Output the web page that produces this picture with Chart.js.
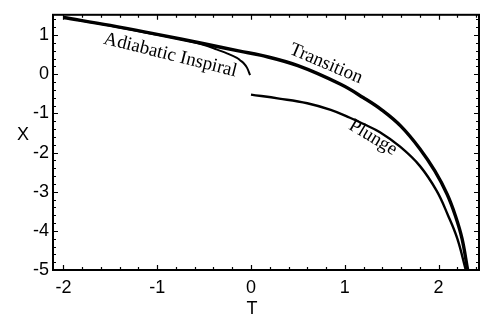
<!DOCTYPE html>
<html>
<head>
<meta charset="utf-8">
<script src="https://cdn.jsdelivr.net/npm/chart.js@4.4.1/dist/chart.umd.min.js"></script>
<style>
  html, body { margin: 0; padding: 0; background: #fff; }
</style>
</head>
<body>
<canvas id="orbitChart" width="481" height="324"></canvas>
<script>
// Curves (T along the bottom, X up the side)
var inspiralT = [-2, -1.5, -1, -0.7, -0.5, -0.36, -0.25, -0.15, -0.117, -0.08, -0.043, -0.01];
var inspiralX = [1.45, 1.24, 1.01, 0.87, 0.75, 0.63, 0.53, 0.42, 0.36, 0.29, 0.17, -0.02];

var transitionT = [-2, -1.5, -1, -0.5, -0.12, 0.1, 0.5, 0.95, 1.2, 1.4, 1.6, 1.8, 1.96, 2.09, 2.18, 2.25, 2.31];
var transitionX = [1.45, 1.25, 1.02, 0.78, 0.59, 0.49, 0.22, -0.25, -0.6, -0.92, -1.33, -1.9, -2.47, -3.06, -3.62, -4.2, -5.0];

var plungeT = [0, 0.3, 0.6, 0.85, 1.055, 1.2, 1.375, 1.59, 1.8, 1.98, 2.1, 2.2, 2.29];
var plungeX = [-0.52, -0.62, -0.74, -0.91, -1.11, -1.27, -1.48, -1.85, -2.34, -2.98, -3.6, -4.2, -5.0];

// Tick labels
var tTicks = [-2, -1, 0, 1, 2];
var xTicks = [-5, -4, -3, -2, -1, 0, 1];

// Curve names written along the lines
var curveNames = ['Adiabatic Inspiral', 'Transition', 'Plunge'];
var nameT = [-0.86, 0.8, 1.3];
var nameX = [0.49, 0.27, -1.62];
var nameAngle = [14, 23, 31];

function toPoints(ts, xs) {
    return ts.map(function (t, i) { return { x: t, y: xs[i] }; });
}

var sansFont = { family: '"Liberation Sans", Arial, sans-serif', size: 18 };

// Mathematica style frame: box, inward ticks on all four sides, plain labels
var framePlugin = {
    id: 'framePlugin',
    afterDatasetsDraw: function (chart) {
        var ctx = chart.ctx;
        var a = chart.chartArea;
        var sx = chart.scales.x;
        var sy = chart.scales.y;
        ctx.save();
        ctx.strokeStyle = '#000';
        ctx.lineWidth = 1.2;
        ctx.beginPath();
        for (var t = -2; t <= 2.41; t += 0.2) {
            var px = Math.round(sx.getPixelForValue(t)) + 0.5;
            var len = Math.abs(t - Math.round(t)) < 0.01 ? 5 : 3;
            ctx.moveTo(px, a.bottom); ctx.lineTo(px, a.bottom - len);
            ctx.moveTo(px, a.top); ctx.lineTo(px, a.top + len);
        }
        for (var v = -5; v <= 1.41; v += 0.2) {
            var py = Math.round(sy.getPixelForValue(v)) + 0.5;
            var ylen = Math.abs(v - Math.round(v)) < 0.01 ? 5 : 3;
            ctx.moveTo(a.left, py); ctx.lineTo(a.left + ylen, py);
            ctx.moveTo(a.right, py); ctx.lineTo(a.right - ylen, py);
        }
        ctx.stroke();
        ctx.lineWidth = 2;
        ctx.strokeRect(a.left, a.top, a.right - a.left, a.bottom - a.top);

        // axis names
        ctx.fillStyle = '#000';
        ctx.font = '18px "Liberation Sans", Arial, sans-serif';
        ctx.textAlign = 'center';
        ctx.textBaseline = 'middle';
        ctx.fillText('X', 23, 135);
        ctx.fillText('T', 252, 309);

        // curve names
        ctx.font = '19px "Liberation Serif", "Times New Roman", serif';
        for (var i = 0; i < curveNames.length; i++) {
            ctx.save();
            ctx.translate(sx.getPixelForValue(nameT[i]), sy.getPixelForValue(nameX[i]));
            ctx.rotate(nameAngle[i] * Math.PI / 180);
            ctx.fillText(curveNames[i], 0, 0);
            ctx.restore();
        }
        ctx.restore();
    }
};

var ctx = document.getElementById('orbitChart').getContext('2d');
var orbitChart = new Chart(ctx, {
    type: 'scatter',
    data: {
        datasets: [
            { label: 'Adiabatic Inspiral', data: toPoints(inspiralT, inspiralX), borderColor: '#000', borderWidth: 2 },
            { label: 'Transition', data: toPoints(transitionT, transitionX), borderColor: '#000', borderWidth: 3.4 },
            { label: 'Plunge', data: toPoints(plungeT, plungeX), borderColor: '#000', borderWidth: 2.4 }
        ]
    },
    options: {
        responsive: false,
        animation: false,
        events: [],
        datasets: {
            scatter: {
                showLine: true,
                pointRadius: 0,
                tension: 0.4
            }
        },
        layout: { padding: { top: 5, right: 2, left: 0, bottom: 0 } },
        plugins: {
            colors: { enabled: false },
            legend: { display: false },
            tooltip: { enabled: false }
        },
        scales: {
            x: {
                type: 'linear',
                min: -2.111,
                max: 2.431,
                grid: { display: false, drawTicks: false },
                border: { display: false },
                afterBuildTicks: function (scale) {
                    scale.ticks = tTicks.map(function (v) { return { value: v }; });
                },
                afterFit: function (scale) { scale.height = 54; },
                ticks: { color: '#000', font: sansFont, padding: 7, maxRotation: 0 }
            },
            y: {
                type: 'linear',
                min: -5,
                max: 1.52,
                grid: { display: false, drawTicks: false },
                border: { display: false },
                afterBuildTicks: function (scale) {
                    scale.ticks = xTicks.map(function (v) { return { value: v }; });
                },
                afterFit: function (scale) { scale.width = 53; },
                ticks: { color: '#000', font: sansFont, padding: 4 }
            }
        }
    },
    plugins: [framePlugin]
});
</script>
</body>
</html>
